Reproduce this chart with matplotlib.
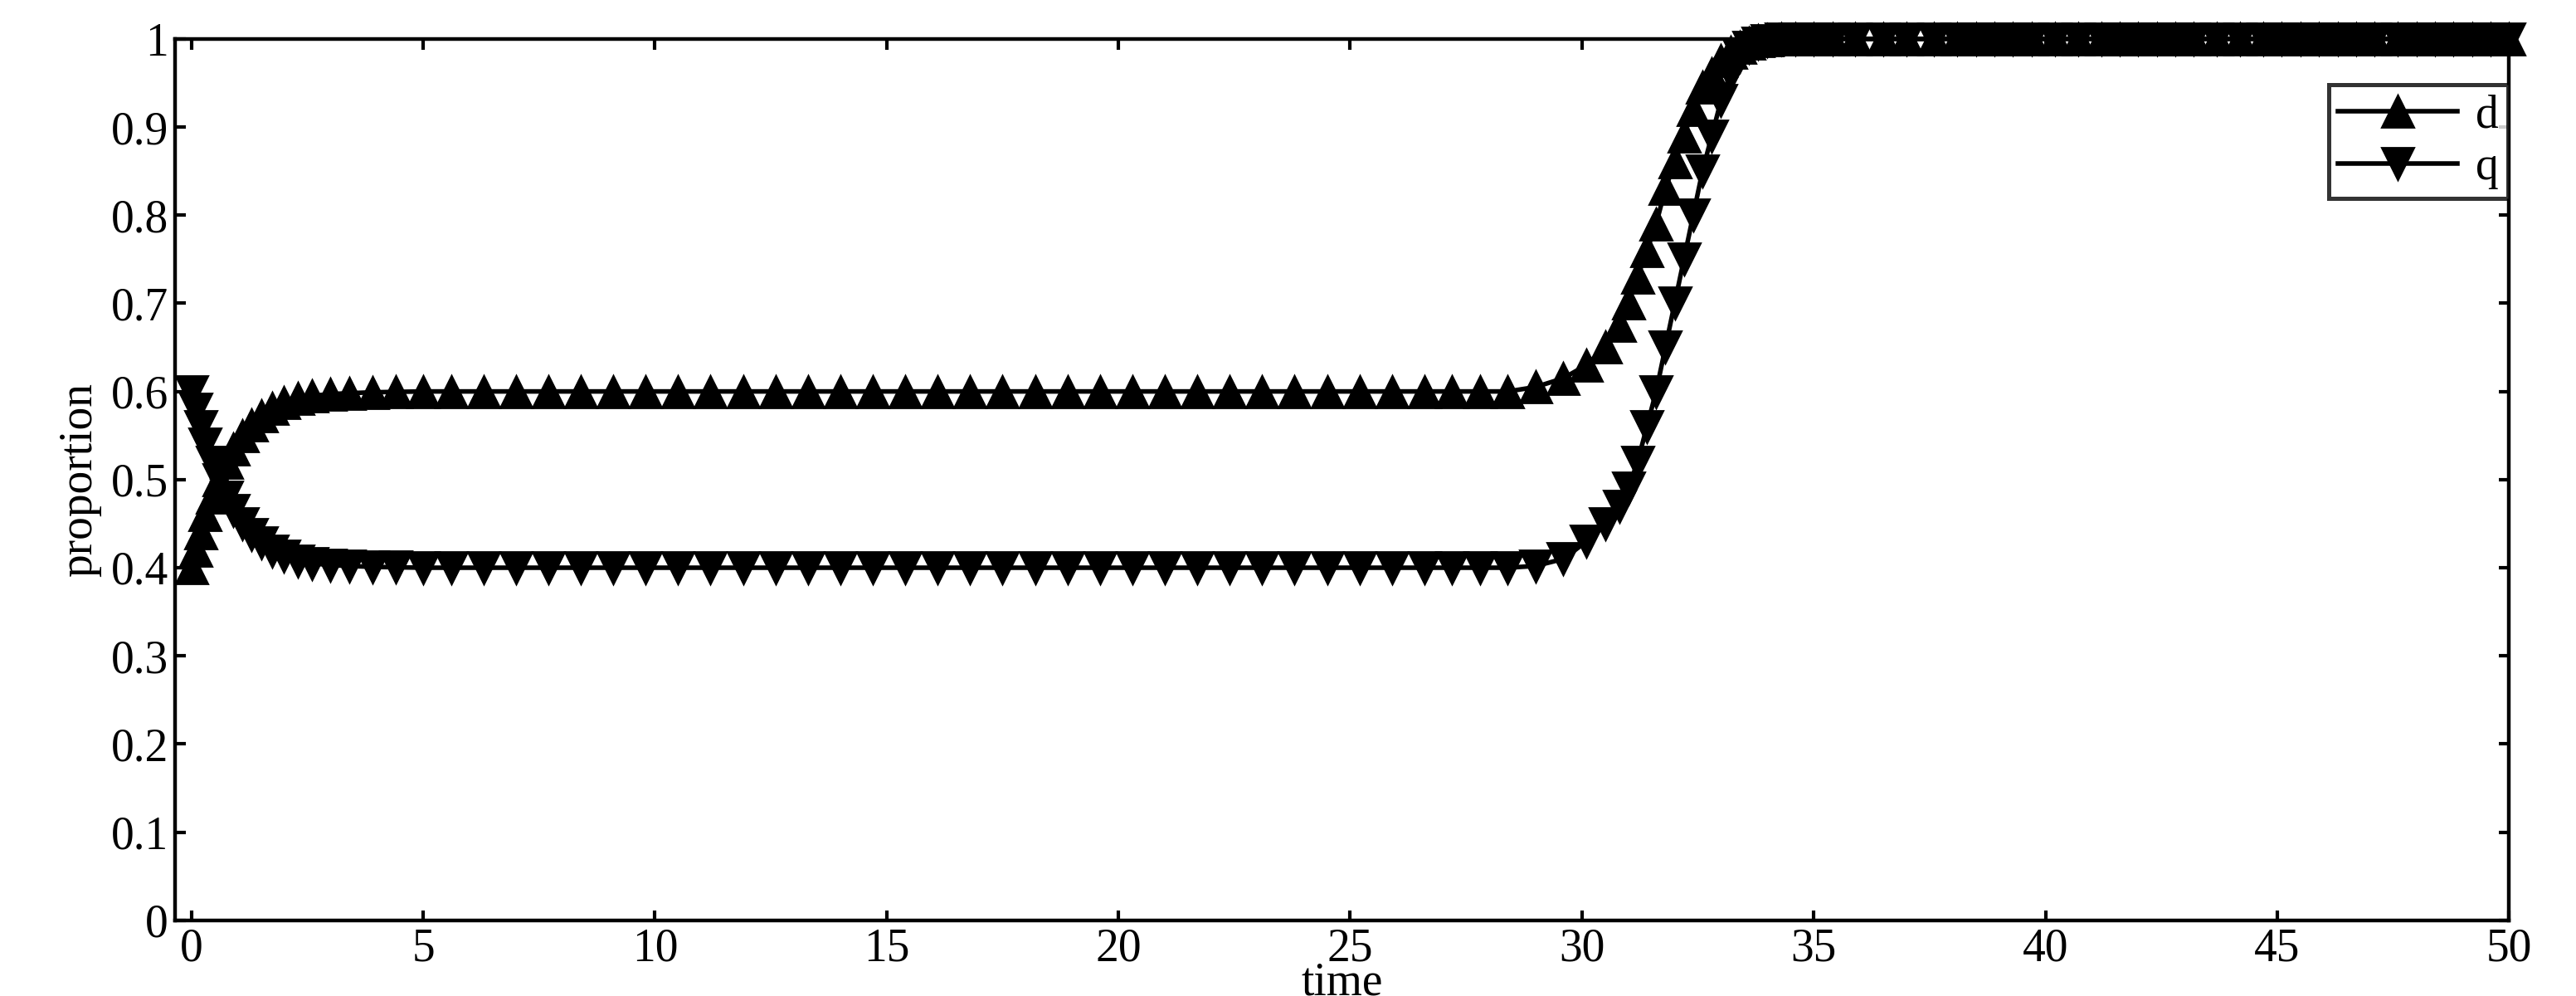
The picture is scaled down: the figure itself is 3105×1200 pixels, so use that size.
import matplotlib
matplotlib.use("Agg")
import matplotlib.pyplot as plt

t_early = [0, 0.1, 0.2, 0.3, 0.45, 0.6, 0.75, 0.9, 1.1, 1.3, 1.5, 1.75, 2.0, 2.3, 2.6, 3.0, 3.4, 3.9, 4.4, 5.0]
d_early = [0.4, 0.42, 0.44, 0.46, 0.48, 0.50, 0.52, 0.535, 0.55, 0.562, 0.572, 0.581, 0.587, 0.592, 0.595, 0.597, 0.598, 0.599, 0.5995, 0.6]
q_early = [0.6, 0.58, 0.56, 0.54, 0.52, 0.50, 0.48, 0.465, 0.45, 0.438, 0.428, 0.419, 0.413, 0.408, 0.405, 0.403, 0.402, 0.401, 0.4005, 0.4]

t_plateau = [5.6, 6.3, 7.0, 7.7, 8.4, 9.1, 9.8, 10.5, 11.2, 11.9, 12.6, 13.3, 14.0, 14.7, 15.4, 16.1,
             16.8, 17.5, 18.2, 18.9, 19.6, 20.3, 21.0, 21.7, 22.4, 23.1, 23.8, 24.5, 25.2, 25.9, 26.6,
             27.2, 27.8, 28.4]
d_plateau = [0.6] * len(t_plateau)
q_plateau = [0.4] * len(t_plateau)

t_trans = [29.0, 29.6, 30.1, 30.5, 30.8, 31.0, 31.2, 31.4, 31.6, 31.8, 32.0, 32.2, 32.4, 32.6, 32.8,
           33.0, 33.2, 33.4, 33.6, 33.8, 34.0]
d_trans = [0.605, 0.615, 0.63, 0.65, 0.675, 0.70, 0.73, 0.76, 0.79, 0.83, 0.86, 0.89, 0.92, 0.945, 0.96,
           0.975, 0.985, 0.99, 0.995, 0.998, 0.999]
q_trans = [0.402, 0.41, 0.43, 0.45, 0.47, 0.49, 0.52, 0.56, 0.60, 0.65, 0.70, 0.75, 0.80, 0.85, 0.89,
           0.93, 0.96, 0.98, 0.99, 0.995, 0.998]

t_late = [34.3, 34.6, 35.0, 35.4, 35.9, 36.5, 37.0, 37.6, 38.1, 38.5, 38.9, 39.3, 39.7, 40.2, 40.7, 41.2,
          41.6, 42.0, 42.4, 42.8, 43.2, 43.7, 44.2, 44.7, 45.1, 45.5, 45.9, 46.3, 46.7, 47.1, 47.6, 48.0,
          48.4, 48.8, 49.2, 49.6, 50.0]
d_late = [1.0] * len(t_late)
q_late = [1.0] * len(t_late)

t = t_early + t_plateau + t_trans + t_late
d = d_early + d_plateau + d_trans + d_late
q = q_early + q_plateau + q_trans + q_late

xticks = [0, 5, 10, 15, 20, 25, 30, 35, 40, 45, 50]
yticks = [0, 0.1, 0.2, 0.3, 0.4, 0.5, 0.6, 0.7, 0.8, 0.9, 1]
ytick_labels = ["0", "0.1", "0.2", "0.3", "0.4", "0.5", "0.6", "0.7", "0.8", "0.9", "1"]

plt.rcParams['font.family'] = ['Liberation Serif', 'DejaVu Serif']
fig = plt.figure(figsize=(15.525, 6), dpi=200)
ax = fig.add_axes([0.068, 0.076, 0.906, 0.885])

ax.plot(t, d, color='black', lw=2.0, marker='^', ms=14, label='d', clip_on=False)
ax.plot(t, q, color='black', lw=2.0, marker='v', ms=14, label='q', clip_on=False)

ax.set_xlim(-0.35, 50)
ax.set_ylim(0, 1)
ax.set_xticks(xticks)
ax.set_yticks(yticks)
ax.set_yticklabels(ytick_labels)
ax.tick_params(direction='in', top=True, right=True, length=4.5, width=1.5, labelsize=20, pad=3)
for s in ax.spines.values():
    s.set_linewidth(1.6)
ax.set_xlabel('time', fontsize=20, labelpad=-4)
ax.set_ylabel('proportion', fontsize=20, labelpad=4)

leg = ax.legend(loc='upper right', bbox_to_anchor=(0.9996, 0.948), fontsize=20, frameon=True,
                fancybox=False, edgecolor='black', handlelength=2.6, borderpad=0.2, labelspacing=0.2,
                handletextpad=0.4, borderaxespad=0)
leg.get_frame().set_linewidth(1.8)

fig.savefig('out.png', dpi=200)
